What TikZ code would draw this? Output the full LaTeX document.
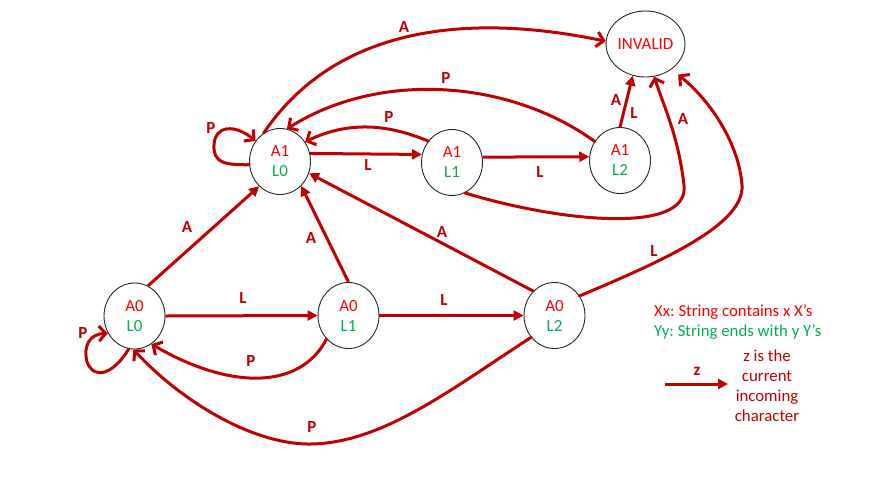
\documentclass[tikz,border=0pt]{standalone}
\usepackage{fontspec}
\setmainfont{Carlito}
\usetikzlibrary{arrows.meta,shapes.geometric}
\definecolor{stRed}{HTML}{FF0000}
\definecolor{stGreen}{HTML}{00B050}
\definecolor{edgeRed}{HTML}{C00000}
\frenchspacing
\begin{document}
\begin{tikzpicture}[x=1pt,y=-1pt,
  state/.style={ellipse, draw=black!85, line width=0.9pt, minimum width=61pt,
    minimum height=66pt, inner sep=0pt, align=center,
    font=\fontsize{17}{20}\selectfont},
  trans/.style={draw=edgeRed, line width=3pt, -{Triangle[length=10pt,width=10pt]}},
  curvy/.style={draw=edgeRed, line width=3pt, line cap=round,
    -{Straight Barb[length=7pt,width=15pt]}},
  lbl/.style={text=edgeRed, font=\fontsize{17}{20}\selectfont\bfseries, inner sep=0pt},
  legend/.style={font=\fontsize{16.8}{20}\selectfont, inner sep=0pt}
]
\useasboundingbox (0,0) rectangle (886,501);

% states
\node[state] (inv)  at (645.5,44)    {\textcolor{stRed}{INVALID}};
\node[state] (a1l0) at (280,161.5)   {\textcolor{stRed}{A1}\\\textcolor{stGreen}{L0}};
\node[state] (a1l1) at (452,162.5)   {\textcolor{stRed}{A1}\\\textcolor{stGreen}{L1}};
\node[state] (a1l2) at (620,160.5)   {\textcolor{stRed}{A1}\\\textcolor{stGreen}{L2}};
\node[state] (a0l0) at (134.5,316)   {\textcolor{stRed}{A0}\\\textcolor{stGreen}{L0}};
\node[state] (a0l1) at (348.5,315.5) {\textcolor{stRed}{A0}\\\textcolor{stGreen}{L1}};
\node[state] (a0l2) at (554.5,315.5) {\textcolor{stRed}{A0}\\\textcolor{stGreen}{L2}};

% straight transitions
\draw[trans] (a0l0.66) -- (a1l0.230);
\draw[trans] (a0l0.0) -- (a0l1.180);
\draw[trans] (a0l1.0) -- (a0l2.180);
\draw[trans] (a0l1.90) -- (a1l0.-49);
\draw[trans] (a0l2.131) -- (a1l0.-22);
\draw[trans] (a1l0.15) -- (a1l1.165);
\draw[trans] (a1l1.10) -- (a1l2.173);
\draw[trans] (a1l2.90) -- (inv.248);

% curved transitions
\draw[curvy] (a1l0.120) .. controls (340,20) and (480,15) .. (inv.176);
\draw[curvy] (a1l2.143) .. controls (510,80) and (380,70) .. (a1l0.78);
\draw[curvy] (a1l1.138) .. controls (390,125) and (350,120) .. (a1l0.38);
\draw[curvy] (a1l1.-67) .. controls (560,222) and (690,235) .. (684,185)
  .. controls (678,135) and (665,110) .. (inv.-75);
\draw[curvy] (a0l2.38) .. controls (660,262) and (745,225) .. (742,185)
  .. controls (739,145) and (712,102) .. ([shift={(7,5)}]inv.-45);
\draw[curvy] (a0l1.227) .. controls (300,390) and (230,390) .. (a0l0.-59);
\draw[curvy] (a0l2.223) .. controls (450,390) and (380,445) .. (307,444)
  .. controls (250,443) and (180,400) .. (a0l0.-92);
\draw[curvy] (a0l0.-100) .. controls (115,372) and (95,382) .. (87,362)
  .. controls (83,345) and (90,334) .. (a0l0.-147);
\draw[curvy] (a1l0.186) .. controls (225,165) and (213,163) .. (214,145)
  .. controls (215,125) and (235,124) .. (a1l0.140);

% transition labels
\node[lbl] (t1)  at (404,27)  {A};
\node[lbl] (t2)  at (446,78)  {P};
\node[lbl] (t3)  at (389,117) {P};
\node[lbl] (t4)  at (616,100) {A};
\node[lbl] (t5)  at (634,113) {L};
\node[lbl] (t6)  at (683,119) {A};
\node[lbl] (t7)  at (654,251) {L};
\node[lbl] (t8)  at (251,361) {P};
\node[lbl] (t9)  at (312,427) {P};
\node[lbl] (t10) at (83,333)  {P};
\node[lbl] (t11) at (211,128) {P};
\node[lbl] (t12) at (187,227) {A};
\node[lbl] (t13) at (311,238) {A};
\node[lbl] (t14) at (442,232) {A};
\node[lbl] (t15) at (243,298) {L};
\node[lbl] (t16) at (444,300) {L};
\node[lbl] (t17) at (368,165) {L};
\node[lbl] (t18) at (540,172) {L};

% legend
\node[legend, anchor=west, text=stRed]   (keyx) at (654,312) {Xx: String contains x X’s};
\node[legend, anchor=west, text=stGreen] (keyy) at (654,332) {Yy: String ends with y Y’s};
\coordinate (zs) at (665,384);
\coordinate (ze) at (728,384);
\draw[trans] (zs) -- (ze);
\node[lbl] (keyz) at (697,371) {z};
\node[legend, text=edgeRed, align=center] (keyt) at (767,386)
  {z is the\\current\\incoming\\character};
\end{tikzpicture}
\end{document}
